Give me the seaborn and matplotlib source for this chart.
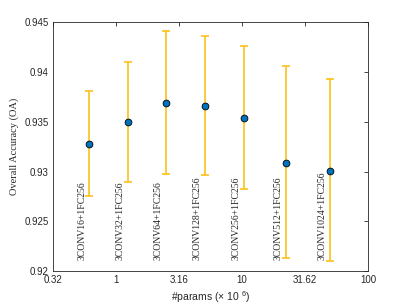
import numpy as np
import pandas as pd
import seaborn as sns
import matplotlib.pyplot as plt
from matplotlib.ticker import NullLocator

# data
models = ["3CONV16+1FC256", "3CONV32+1FC256", "3CONV64+1FC256", "3CONV128+1FC256",
          "3CONV256+1FC256", "3CONV512+1FC256", "3CONV1024+1FC256"]
params = [0.614, 1.24, 2.48, 5.06, 10.4, 22.2, 49.6]
acc = [0.9328, 0.9350, 0.9369, 0.9366, 0.9354, 0.9309, 0.9301]
acc_hi = [0.9381, 0.9410, 0.9441, 0.9436, 0.9426, 0.9406, 0.9393]
acc_lo = [0.9275, 0.9289, 0.9297, 0.9296, 0.9282, 0.9213, 0.9210]
xtick_labels = ["0.32", "1", "3.16", "10", "31.62", "100"]
ytick_labels = ["0.92", "0.925", "0.93", "0.935", "0.94", "0.945"]

df = pd.DataFrame({"params": params, "acc": acc, "hi": acc_hi, "lo": acc_lo, "model": models})

sns.set_style("white")
plt.rcParams["font.family"] = ["Liberation Sans", "DejaVu Sans"]
plt.rcParams["mathtext.fontset"] = "custom"
plt.rcParams["mathtext.rm"] = "Liberation Sans"
plt.rcParams["mathtext.it"] = "Liberation Sans"

fig = plt.figure(figsize=(4.07, 3.05), dpi=100)
ax = fig.add_axes([0.130, 0.1115, 0.774, 0.8155])

yerr = [df["acc"] - df["lo"], df["hi"] - df["acc"]]
ax.errorbar(df["params"], df["acc"], yerr=yerr, fmt="none", ecolor="#FBC11C",
            elinewidth=1.2, capsize=3, capthick=1.2, zorder=2)
sns.scatterplot(data=df, x="params", y="acc", ax=ax, color="#0072BD", s=24,
                edgecolor="black", linewidth=0.6, zorder=3, legend=False)

for _, r in df.iterrows():
    ax.annotate(r["model"], xy=(r["params"], 0.9211), xytext=(-5.5, 0),
                textcoords="offset points", rotation=90, ha="center", va="bottom",
                fontsize=7, family=["Liberation Serif", "DejaVu Serif"])

ax.set_xscale("log")
ax.set_xlim(10 ** -0.5, 100)
ax.set_ylim(0.92, 0.945)
ax.set_xticks(10 ** np.arange(-0.5, 2.01, 0.5))
ax.set_xticklabels(xtick_labels)
ax.xaxis.set_minor_locator(NullLocator())
ax.set_yticks(np.linspace(0.92, 0.945, 6))
ax.set_yticklabels(ytick_labels)
ax.tick_params(direction="in", length=3, width=0.6, labelsize=7, colors="#262626",
               top=True, right=True, pad=3)

for s in ax.spines.values():
    s.set_color("#262626")
    s.set_linewidth(0.6)

ax.set_xlabel("#params (× 10 $^{6}$)", fontsize=7.5, color="#262626", labelpad=3)
ax.set_ylabel("Overall Accuracy (OA)", fontsize=7.5, family=["Liberation Serif", "DejaVu Serif"],
              labelpad=4)

plt.savefig("out.png", dpi=100)
